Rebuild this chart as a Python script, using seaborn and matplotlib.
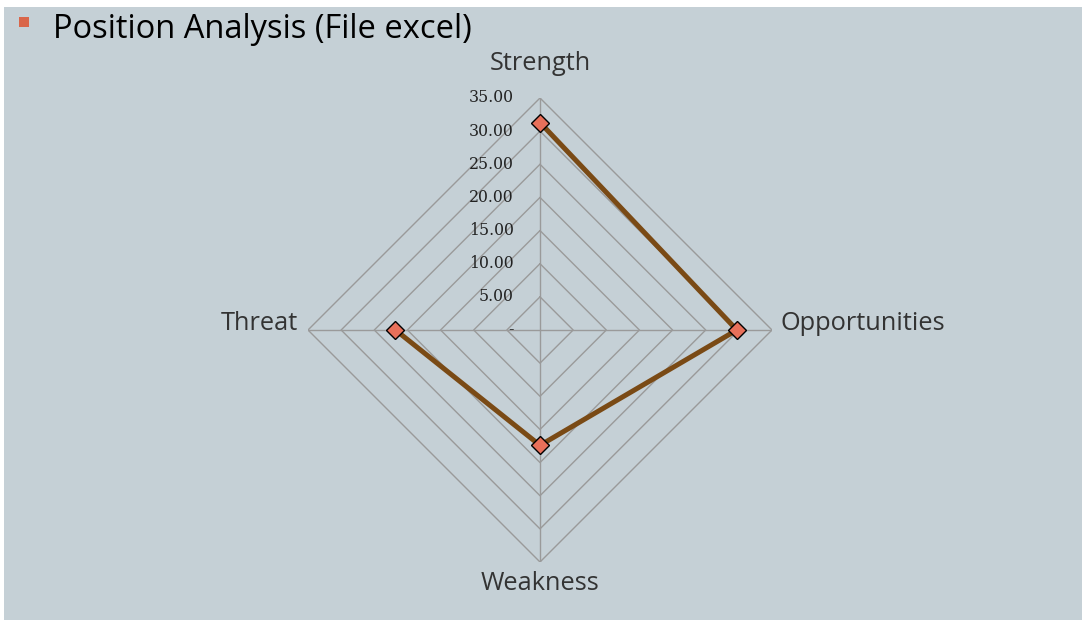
import numpy as np
import matplotlib
matplotlib.use("Agg")
import matplotlib.pyplot as plt
from matplotlib.patches import Rectangle
import seaborn as sns

# values
categories = ["Strength", "Opportunities", "Weakness", "Threat"]
scores = [31.3, 29.7, 17.4, 21.8]
levels = [0, 5, 10, 15, 20, 25, 30, 35]
level_labels = ["-", "5.00", "10.00", "15.00", "20.00", "25.00", "30.00", "35.00"]

sns.set_theme(style="white")
plt.rcParams["font.family"] = ["Open Sans", "DejaVu Sans"]

fig = plt.figure(figsize=(10.82, 6.25), dpi=100)
fig.patch.set_facecolor("white")
fig.patches.append(Rectangle((4 / 1082, 5 / 625), 1 - 4 / 1082, 613 / 625,
                             transform=fig.transFigure, facecolor="#C5D0D6",
                             edgecolor="none", zorder=-10))

# slide title with bullet
fig.patches.append(Rectangle((19 / 1082, 1 - 27 / 625), 10 / 1082, 10 / 625,
                             transform=fig.transFigure, facecolor="#D9664A",
                             edgecolor="none"))
fig.text(53 / 1082, 1 - 29 / 625, "Position Analysis (File excel)",
         fontsize=23.5, color="black", va="center", ha="left")

ax = fig.add_axes([308 / 1082, 63 / 625, 464 / 1082, 464 / 625], projection="polar")
ax.set_theta_zero_location("N")
ax.set_theta_direction(-1)
ax.patch.set_alpha(0)
ax.spines["polar"].set_visible(False)
ax.grid(False)
ax.set_xticks([])
ax.set_yticks([])
ax.set_ylim(0, 35)

angles = np.arange(len(categories)) * 2 * np.pi / len(categories)
ang_closed = np.append(angles, angles[0])

# diamond grid
grid_col = "#9A9A9A"
for lv in levels[1:]:
    ax.plot(ang_closed, [lv] * len(ang_closed), color=grid_col, lw=1, zorder=1)
for a in angles:
    ax.plot([a, a], [0, levels[-1]], color=grid_col, lw=1, zorder=1)

# value tick labels on the strength axis
for lv, lab in zip(levels, level_labels):
    ax.annotate(lab, (0, lv), xytext=(-26, 0), textcoords="offset pixels",
                ha="right", va="center", fontsize=11.3, family="DejaVu Serif",
                color="#222222", annotation_clip=False)

# category labels
offsets = [(0, 35, "center", "center"), (9, 7, "left", "center"),
           (0, -21, "center", "center"), (-10, 7, "right", "center")]
for a, name, (dx, dy, ha, va) in zip(angles, categories, offsets):
    ax.annotate(name, (a, levels[-1]), xytext=(dx, dy), textcoords="offset pixels",
                ha=ha, va=va, fontsize=18.3, color="#333333", annotation_clip=False)

vals_closed = np.append(scores, scores[0])
sns.lineplot(x=ang_closed, y=vals_closed, sort=False, ax=ax, color="#7A4A15",
             linewidth=3.6, marker="D", markersize=9, markerfacecolor="#E8705A",
             markeredgecolor="black", markeredgewidth=1, zorder=3)
for ln in ax.lines[-1:]:
    ln.set_clip_on(False)

fig.savefig("out.png", dpi=100)
